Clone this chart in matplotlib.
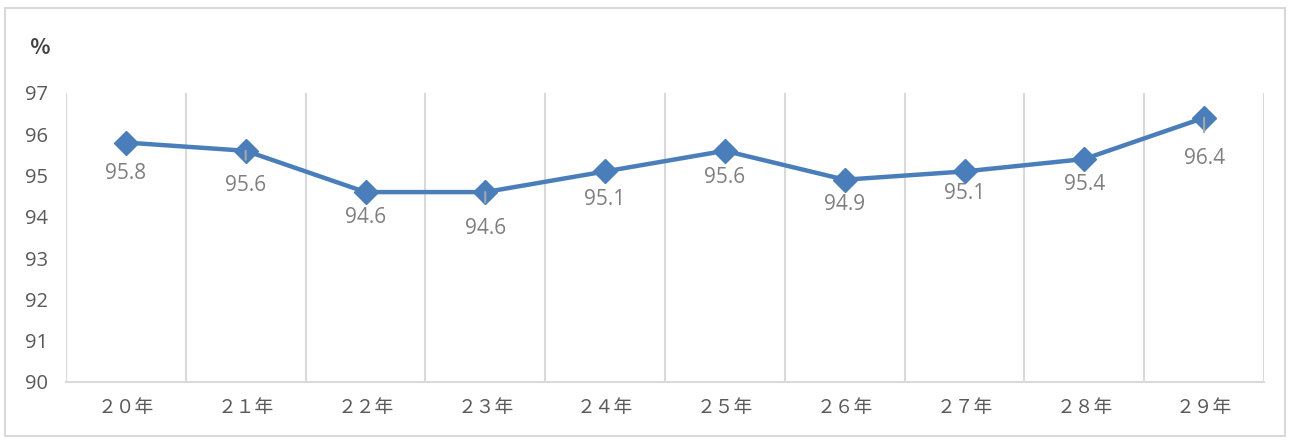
import matplotlib.pyplot as plt
from matplotlib.patches import Rectangle

years = ['２０年', '２１年', '２２年', '２３年', '２４年',
         '２５年', '２６年', '２７年', '２８年', '２９年']
values = [95.8, 95.6, 94.6, 94.6, 95.1, 95.6, 94.9, 95.1, 95.4, 96.4]
y_ticks = [90, 91, 92, 93, 94, 95, 96, 97]

# label offsets below each point (in points) and whether a leader line is drawn
label_offsets = [22, 25, 18, 26, 20, 19, 18, 16, 18, 29]
leaders = [False, True, False, True, False, False, False, False, False, True]

line_color = '#4a7ebb'
grid_color = '#d9d9d9'
tick_color = '#595959'
label_color = '#7f7f7f'

fig = plt.figure(figsize=(12.9, 4.41), dpi=100)
fig.patches.append(Rectangle((5 / 1290, 5 / 441), 1280 / 1290, 428 / 441,
                             transform=fig.transFigure, fill=False,
                             edgecolor=grid_color, linewidth=1.5))

ax = fig.add_axes([66 / 1290, 1 - 382 / 441, 1198 / 1290, 289 / 441])
x = list(range(len(values)))
ax.plot(x, values, color=line_color, linewidth=3.2, marker='D',
        markersize=12, zorder=3)

for xi, v, off, lead in zip(x, values, label_offsets, leaders):
    arrow = None
    if lead:
        arrow = dict(arrowstyle='-', color='#a6a6a6', lw=1.5, shrinkA=9, shrinkB=0)
    ax.annotate(f'{v:.1f}', xy=(xi, v), xytext=(0, -off),
                textcoords='offset points', ha='center', va='center',
                fontsize=15, color=label_color, family='Open Sans',
                arrowprops=arrow, zorder=4)

ax.set_xlim(-0.5, len(values) - 0.5)
ax.set_ylim(90, 97)
ax.set_yticks(y_ticks)
ax.set_yticklabels([str(t) for t in y_ticks], fontsize=14.5, color=tick_color,
                   family='Open Sans')
ax.set_xticks(x)
ax.set_xticklabels(years, fontsize=13.5, color=tick_color,
                   family=['Noto Sans CJK JP', 'DejaVu Sans'])
ax.set_xticks([i - 0.5 for i in range(len(values) + 1)], minor=True)
ax.tick_params(axis='both', which='both', length=0)
ax.tick_params(axis='y', pad=13)
ax.tick_params(axis='x', pad=11)
ax.grid(True, which='minor', axis='x', color=grid_color, linewidth=1.5)
ax.grid(False, which='major')
for gl in ax.xaxis.get_minorticklines() + ax.get_xgridlines():
    gl.set_clip_on(False)

for side in ['top', 'right', 'left']:
    ax.spines[side].set_visible(False)
ax.spines['bottom'].set_color(grid_color)
ax.spines['bottom'].set_linewidth(1.5)

fig.text(40 / 1290, 1 - 48 / 441, '％', fontsize=15, color='#404040',
         weight='bold', family=['Noto Sans CJK JP', 'DejaVu Sans'],
         ha='center', va='center')

fig.savefig('out.png', dpi=100)
